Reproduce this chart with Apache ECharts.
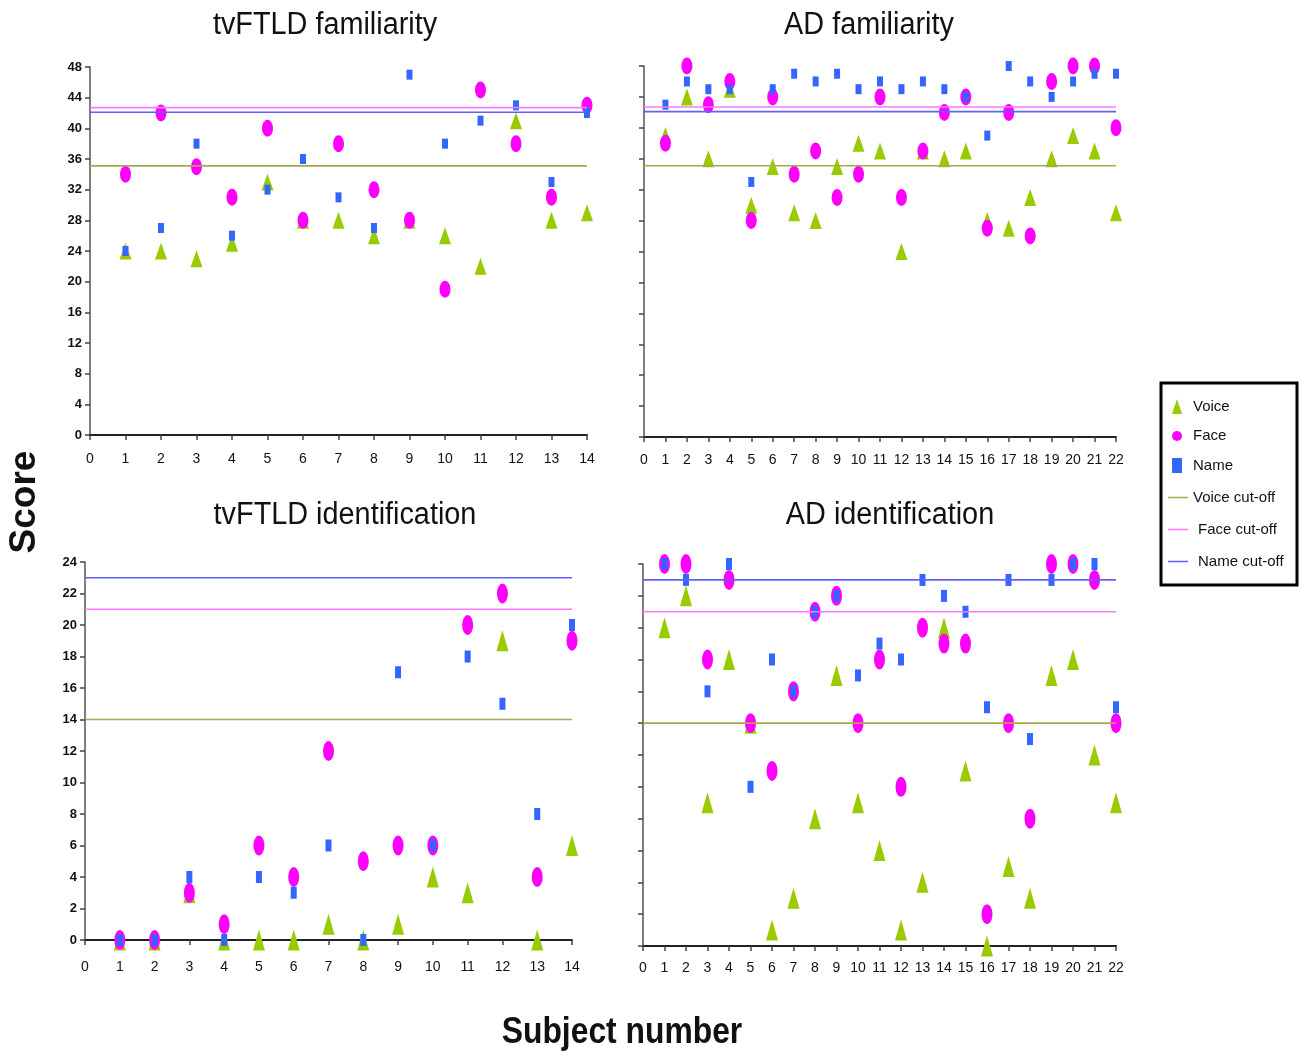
<!DOCTYPE html>
<html>
<head>
<meta charset="utf-8">
<script src="https://cdn.jsdelivr.net/npm/echarts@6/dist/echarts.min.js"></script>
<style>
html,body{margin:0;padding:0;background:#fff;}
#chart{width:1302px;height:1055px;}
</style>
</head>
<body>
<div id="chart"></div>
<script>
// ---- data ----
const subjectsFTLD = [1,2,3,4,5,6,7,8,9,10,11,12,13,14];
const subjectsAD = [1,2,3,4,5,6,7,8,9,10,11,12,13,14,15,16,17,18,19,20,21,22];

const ftldFamVoice = [24,24,23,25,33,28,28,26,28,26,22,41,28,29];
const ftldFamFace  = [34,42,35,31,40,28,38,32,28,19,45,38,31,43];
const ftldFamName  = [24,27,38,26,32,36,31,27,47,38,41,43,33,42];

const adFamVoice = [39,44,36,45,30,35,29,28,35,38,37,24,37,36,37,28,27,31,36,39,37,29];
const adFamFace  = [38,48,43,46,28,44,34,37,31,34,44,31,37,42,44,27,42,26,46,48,48,40];
const adFamName  = [43,46,45,45,33,45,47,46,47,45,46,45,46,45,44,39,48,46,44,46,47,47];

const ftldIdVoice = [0,0,3,0,0,0,1,0,1,4,3,19,0,6];
const ftldIdFace  = [0,0,3,1,6,4,12,5,6,6,20,22,4,19];
const ftldIdName  = [0,0,4,0,4,3,6,0,17,6,18,15,8,20];

const adIdVoice = [20,22,9,18,14,1,3,8,17,9,6,1,4,20,11,0,5,3,17,18,12,9];
const adIdFace  = [24,24,18,23,14,11,16,21,22,14,18,10,20,19,19,2,14,8,24,24,23,14];
const adIdName  = [24,23,16,24,10,18,16,21,22,17,19,18,23,22,21,15,23,13,23,24,24,15];

// cut-off values [voice, face, name]
const famCutoffs = [35.1, 42.7, 42.1];
const idCutoffs  = [14, 21, 23];

const panelTitles = ['tvFTLD familiarity','AD familiarity','tvFTLD identification','AD identification'];
const seriesNames = ['Voice','Face','Name'];
const cutNames = ['Voice cut-off','Face cut-off','Name cut-off'];

// ---- styling ----
const SANS = "'Liberation Sans',Arial,sans-serif";
const markerColors = ['#99CC00','#FF00FF','#3366FF'];
const lineColors = ['#A8A850','#FF77FF','#6060FF'];
const symbols = ['triangle','circle','rect'];
const sizesTop = [[12,17],[11,17],[6,10]];
const sizesBot = [[12,21],[11,20],[6,12]];

const grids = [
  {left:90, top:67, width:497, height:368},
  {left:644, top:66, width:472, height:371},
  {left:85, top:562, width:487, height:378},
  {left:643, top:564, width:473, height:382}
];

const panels = [
  {subj:subjectsFTLD, xmax:14, ymax:48, yint:4, vals:[ftldFamVoice,ftldFamFace,ftldFamName], cut:famCutoffs, sizes:sizesTop, ylabels:true, xmargin:17},
  {subj:subjectsAD, xmax:22, ymax:48, yint:4, vals:[adFamVoice,adFamFace,adFamName], cut:famCutoffs, sizes:sizesTop, ylabels:false, xmargin:16},
  {subj:subjectsFTLD, xmax:14, ymax:24, yint:2, vals:[ftldIdVoice,ftldIdFace,ftldIdName], cut:idCutoffs, sizes:sizesBot, ylabels:true, xmargin:20},
  {subj:subjectsAD, xmax:22, ymax:24, yint:2, vals:[adIdVoice,adIdFace,adIdName], cut:idCutoffs, sizes:sizesBot, ylabels:false, xmargin:15}
];

const xAxes = [], yAxes = [], series = [];
panels.forEach((p, k) => {
  xAxes.push({
    type:'value', gridIndex:k, min:0, max:p.xmax, interval:1,
    splitLine:{show:false},
    axisLine:{show:true, onZero:false, lineStyle:{color:'#222', width:2}},
    axisTick:{show:true, length:5, lineStyle:{color:'#444', width:1.5}},
    axisLabel:{show:true, margin:p.xmargin, fontFamily:SANS, fontSize:14, color:'#111'}
  });
  yAxes.push({
    type:'value', gridIndex:k, min:0, max:p.ymax, interval:p.yint,
    splitLine:{show:false},
    axisLine:{show:true, onZero:false, lineStyle:{color:'#555', width:1.5}},
    axisTick:{show:true, length:5, lineStyle:{color:'#444', width:1.5}},
    axisLabel:{show:p.ylabels, margin:8, fontFamily:SANS, fontWeight:'bold', fontSize:13, color:'#111'}
  });
  for (let j = 0; j < 3; j++) {
    series.push({
      name:cutNames[j], type:'line', xAxisIndex:k, yAxisIndex:k,
      symbol:'none', silent:true, animation:false,
      itemStyle:{color:lineColors[j]},
      lineStyle:{color:lineColors[j], width:1.6},
      data:[[0, p.cut[j]], [p.xmax, p.cut[j]]]
    });
  }
  for (let j = 0; j < 3; j++) {
    series.push({
      name:seriesNames[j], type:'scatter', xAxisIndex:k, yAxisIndex:k,
      symbol:symbols[j], symbolSize:p.sizes[j], symbolKeepAspect:false,
      itemStyle:{color:markerColors[j], opacity:1},
      animation:false,
      data:p.subj.map((s, i) => [s, p.vals[j][i]])
    });
  }
});

const titlePos = [[325,25],[869,25],[345,515],[890,515]];
const graphics = panelTitles.map((t, i) => ({
  type:'text', x:titlePos[i][0], y:titlePos[i][1], scaleX:0.93,
  style:{text:t, fontFamily:SANS, fontSize:31, fill:'#111', textAlign:'center', textVerticalAlign:'middle'}
}));
graphics.push(
  {type:'rect', shape:{x:1161, y:383, width:136, height:202}, style:{fill:'none', stroke:'#000', lineWidth:3}, z:-1},
  {type:'text', x:25, y:502, rotation:Math.PI/2, style:{text:'Score', fontFamily:SANS, fontWeight:'bold', fontSize:37, fill:'#111', textAlign:'center', textVerticalAlign:'middle'}},
  {type:'text', x:622, y:1033, scaleX:0.86, style:{text:'Subject number', fontFamily:SANS, fontWeight:'bold', fontSize:37, fill:'#111', textAlign:'center', textVerticalAlign:'middle'}}
);

const option = {
  backgroundColor:'#fff',
  animation:false,
  grid:grids,
  xAxis:xAxes,
  yAxis:yAxes,
  legend:[
    {
      data:seriesNames, orient:'vertical', left:1172, top:399, padding:0,
      itemWidth:10, itemHeight:15, itemGap:14.5,
      textStyle:{fontFamily:SANS, fontSize:15, color:'#111', padding:[0,0,0,6]}
    },
    {
      data:cutNames.map((n, i) => ({name:n, icon:'rect', textStyle:{padding:[0,0,0,i === 0 ? 0 : 5]}})),
      orient:'vertical', left:1168, top:489, padding:0,
      itemWidth:20, itemHeight:1.5, itemGap:15,
      textStyle:{fontFamily:SANS, fontSize:15, color:'#111', lineHeight:17}
    }
  ],
  graphic:graphics,
  series:series
};

const chart = echarts.init(document.getElementById('chart'), null, {renderer:'canvas'});
chart.setOption(option);
</script>
</body>
</html>
